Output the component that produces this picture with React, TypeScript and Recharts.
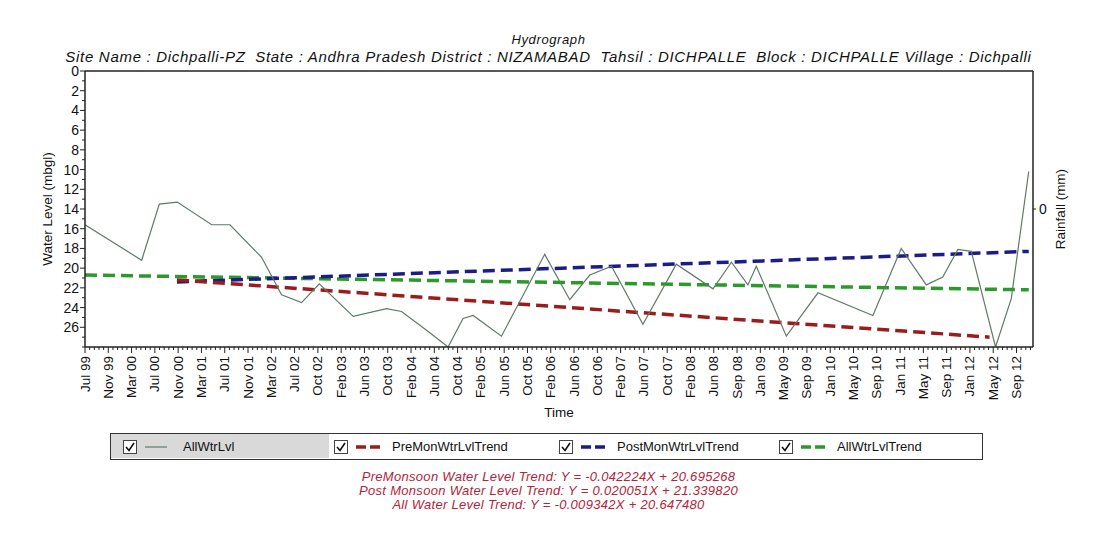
import React from 'react';
import { LineChart, Line, XAxis, YAxis, ReferenceLine, Legend } from 'recharts';

// x positions are days counted from Jul 1999; the axis labels sit every 120 days
const tickLabels = [
  'Jul 99', 'Nov 99', 'Mar 00', 'Jul 00', 'Nov 00', 'Mar 01', 'Jul 01', 'Nov 01', 'Mar 02', 'Jul 02',
  'Oct 02', 'Feb 03', 'Jun 03', 'Oct 03', 'Feb 04', 'Jun 04', 'Oct 04', 'Feb 05', 'Jun 05', 'Oct 05',
  'Feb 06', 'Jun 06', 'Oct 06', 'Feb 07', 'Jun 07', 'Oct 07', 'Feb 08', 'Jun 08', 'Sep 08', 'Jan 09',
  'May 09', 'Sep 09', 'Jan 10', 'May 10', 'Sep 10', 'Jan 11', 'May 11', 'Sep 11', 'Jan 12', 'May 12',
  'Sep 12',
];
const TICK_STEP = 120;
const MINOR_STEP = 24;
const X_MAX = 4885;

const levelTicks = [0, 2, 4, 6, 8, 10, 12, 14, 16, 18, 20, 22, 24, 26];
const rainTicks = [0];

// AllWtrLvl observations (day, water level in mbgl)
const allLevelDays = [
  0, 292, 383, 475, 653, 747, 910, 1013, 1116, 1207,
  1382, 1554, 1631, 1760, 1871, 1948, 2000, 2146, 2369, 2498,
  2601, 2713, 2875, 3047, 3236, 3331, 3416, 3459, 3614, 3777,
  4060, 4206, 4335, 4420, 4498, 4567, 4692, 4773, 4863,
];
const allLevelValues = [
  15.6, 19.2, 13.5, 13.3, 15.6, 15.6, 18.9, 22.7, 23.5, 21.6,
  24.9, 24.1, 24.4, 26.3, 28.0, 25.1, 24.8, 26.9, 18.6, 23.2,
  20.7, 19.8, 25.7, 19.6, 22.1, 19.4, 21.7, 19.8, 26.9, 22.5,
  24.8, 18.0, 21.7, 20.9, 18.1, 18.3, 28.0, 23.1, 10.2,
];

// trend lines (end points)
const preTrendDays = [474, 4661];
const preTrendValues = [21.2, 27.0];
const postTrendDays = [474, 4863];
const postTrendValues = [21.4, 18.3];
const allTrendDays = [0, 4863];
const allTrendValues = [20.7, 22.2];

const TITLE = 'Hydrograph';
const SUBTITLE =
  'Site Name : Dichpalli-PZ  State : Andhra Pradesh District : NIZAMABAD  Tahsil : DICHPALLE  Block : DICHPALLE Village : Dichpalli';
const equations = [
  'PreMonsoon Water Level Trend: Y = -0.042224X + 20.695268',
  'Post Monsoon Water Level Trend: Y = 0.020051X + 21.339820',
  'All Water Level Trend: Y = -0.009342X + 20.647480',
];

const seriesNames = ['AllWtrLvl', 'PreMonWtrLvlTrend', 'PostMonWtrLvlTrend', 'AllWtrLvlTrend'];
const seriesColors = ['#5f7a66', '#9b1c1c', '#1c1c86', '#2a9a2a'];

const FONT = '"Liberation Sans", Arial, sans-serif';
const W = 1097;
const H = 541;
const AXIS = '#222';

const toPoints = (days: number[], values: number[]) =>
  days.map((day, i) => ({ day, level: values[i] }));

const xTicks: number[] = [];
for (let d = 0; d <= X_MAX; d += MINOR_STEP) xTicks.push(d);
const yTicks: number[] = [];
for (let v = 0; v <= 28; v += 1) yTicks.push(v);

const XTick = (props: any) => {
  const { x, y, payload } = props;
  const major = payload.value % TICK_STEP === 0;
  const len = major ? 6 : 3;
  const label = major ? tickLabels[payload.value / TICK_STEP] : null;
  return (
    <g>
      <line x1={x} y1={y} x2={x} y2={y + len} stroke={AXIS} strokeWidth={1} />
      {label && (
        <text
          x={x}
          y={y + len + 3}
          transform={`rotate(-90 ${x} ${y + len + 3})`}
          textAnchor="end"
          dominantBaseline="central"
          fontSize={13.5}
          fontFamily={FONT}
          fill="#111"
        >
          {label}
        </text>
      )}
    </g>
  );
};

const YTick = (props: any) => {
  const { x, y, payload } = props;
  const major = levelTicks.includes(payload.value);
  const len = major ? 5 : 3;
  return (
    <g>
      <line x1={x - len} y1={y} x2={x} y2={y} stroke={AXIS} strokeWidth={1} />
      {major && (
        <text x={x - len - 1} y={y} textAnchor="end" dominantBaseline="central" fontSize={14} fontFamily={FONT} fill="#111">
          {payload.value}
        </text>
      )}
    </g>
  );
};

const CheckBox = ({ x }: { x: number }) => (
  <svg style={{ position: 'absolute', left: x, top: 6 }} width={14} height={14}>
    <rect x={0.5} y={0.5} width={13} height={13} fill="#fff" stroke="#444" />
    <polyline points="3,7 6,10.5 11,3" fill="none" stroke="#111" strokeWidth={1.6} />
  </svg>
);

const legendItemX = [12, 223, 448, 668];

const renderLegend = () => (
  <div style={{ position: 'relative', width: 873, height: 27, border: '1.5px solid #333', boxSizing: 'border-box', background: '#fff', fontFamily: FONT }}>
    <div style={{ position: 'absolute', left: 0, top: 0, width: 218, height: 24, background: '#d9d9d9' }} />
    {seriesNames.map((name, i) => (
      <div key={name}>
        <CheckBox x={legendItemX[i]} />
        <svg style={{ position: 'absolute', left: legendItemX[i] + 20, top: 6 }} width={32} height={14}>
          {i === 0 ? (
            <line x1={2} y1={7} x2={24} y2={7} stroke={seriesColors[i]} strokeWidth={1.2} />
          ) : (
            <line x1={2} y1={7} x2={30} y2={7} stroke={seriesColors[i]} strokeWidth={3.5} strokeDasharray="10 4" />
          )}
        </svg>
        <span style={{ position: 'absolute', left: legendItemX[i] + (i === 0 ? 60 : 58), top: 5, fontSize: 13, color: '#111', whiteSpace: 'nowrap' }}>
          {name}
        </span>
      </div>
    ))}
  </div>
);

export default function App() {
  const allLevel = toPoints(allLevelDays, allLevelValues);
  const preTrend = toPoints(preTrendDays, preTrendValues);
  const postTrend = toPoints(postTrendDays, postTrendValues);
  const allTrend = toPoints(allTrendDays, allTrendValues);

  return (
    <div style={{ position: 'absolute', left: 0, top: 0, width: W, height: H, background: '#fff', fontFamily: FONT, overflow: 'hidden' }}>
      <div style={{ position: 'absolute', top: 32, left: 0, width: W, textAlign: 'center', fontStyle: 'italic', fontSize: 13, letterSpacing: 0.6, color: '#111' }}>
        {TITLE}
      </div>
      <div style={{ position: 'absolute', top: 48, left: 0, width: W, textAlign: 'center', fontStyle: 'italic', fontSize: 15, letterSpacing: 0.7, color: '#111', whiteSpace: 'pre' }}>
        {SUBTITLE}
      </div>

      <LineChart width={W} height={H} margin={{ top: 71, right: 0, bottom: 116, left: 0 }}>
        <XAxis
          dataKey="day"
          type="number"
          domain={[0, X_MAX]}
          ticks={xTicks}
          interval={0}
          tick={XTick}
          tickLine={false}
          tickSize={0}
          tickMargin={0}
          height={78}
          axisLine={{ stroke: AXIS, strokeWidth: 1.5 }}
          allowDataOverflow
          label={{ value: 'Time', position: 'insideBottom', offset: 8, style: { fontSize: 13.5, fill: '#111', fontFamily: FONT } }}
        />
        <YAxis
          type="number"
          domain={[0, 28]}
          reversed
          ticks={yTicks}
          interval={0}
          tick={YTick}
          tickLine={false}
          tickSize={0}
          tickMargin={0}
          width={85}
          axisLine={{ stroke: AXIS, strokeWidth: 1.5 }}
          allowDataOverflow
          label={{
            value: 'Water Level (mbgl)',
            angle: -90,
            position: 'insideLeft',
            offset: 47,
            textAnchor: 'middle',
            style: { fontSize: 13.5, fill: '#111', fontFamily: FONT, textAnchor: 'middle' },
          }}
        />
        <YAxis
          yAxisId="rain"
          orientation="right"
          type="number"
          domain={[-1, 1]}
          ticks={rainTicks}
          interval={0}
          allowDataOverflow
          tickSize={3}
          tickMargin={3}
          width={64}
          axisLine={{ stroke: AXIS, strokeWidth: 1.5 }}
          tickLine={{ stroke: AXIS }}
          tick={{ fontSize: 14, fill: '#111', fontFamily: FONT }}
          label={{
            value: 'Rainfall (mm)',
            angle: -90,
            position: 'insideRight',
            offset: 37,
            textAnchor: 'middle',
            style: { fontSize: 13.5, fill: '#111', fontFamily: FONT, textAnchor: 'middle' },
          }}
        />
        <ReferenceLine y={0} stroke={AXIS} strokeWidth={1.5} />

        <Line data={allTrend} dataKey="level" name={seriesNames[3]} stroke={seriesColors[3]} strokeWidth={3.5} strokeDasharray="12 6" dot={false} isAnimationActive={false} />
        <Line data={postTrend} dataKey="level" name={seriesNames[2]} stroke={seriesColors[2]} strokeWidth={3.5} strokeDasharray="12 6" dot={false} isAnimationActive={false} />
        <Line data={preTrend} dataKey="level" name={seriesNames[1]} stroke={seriesColors[1]} strokeWidth={3.5} strokeDasharray="12 6" dot={false} isAnimationActive={false} />
        <Line data={allLevel} dataKey="level" name={seriesNames[0]} stroke={seriesColors[0]} strokeWidth={1.2} dot={false} isAnimationActive={false} />

        <Legend
          layout="horizontal"
          verticalAlign="middle"
          align="center"
          content={renderLegend}
          wrapperStyle={{ position: 'absolute', left: 110, top: 433, width: 873, height: 27 }}
        />
      </LineChart>

      <div style={{ position: 'absolute', top: 470, left: 0, width: W, textAlign: 'center', fontStyle: 'italic', fontSize: 13, letterSpacing: 0.3, lineHeight: '14px', color: '#b3233a' }}>
        {equations.map((e) => (
          <div key={e}>{e}</div>
        ))}
      </div>
    </div>
  );
}
